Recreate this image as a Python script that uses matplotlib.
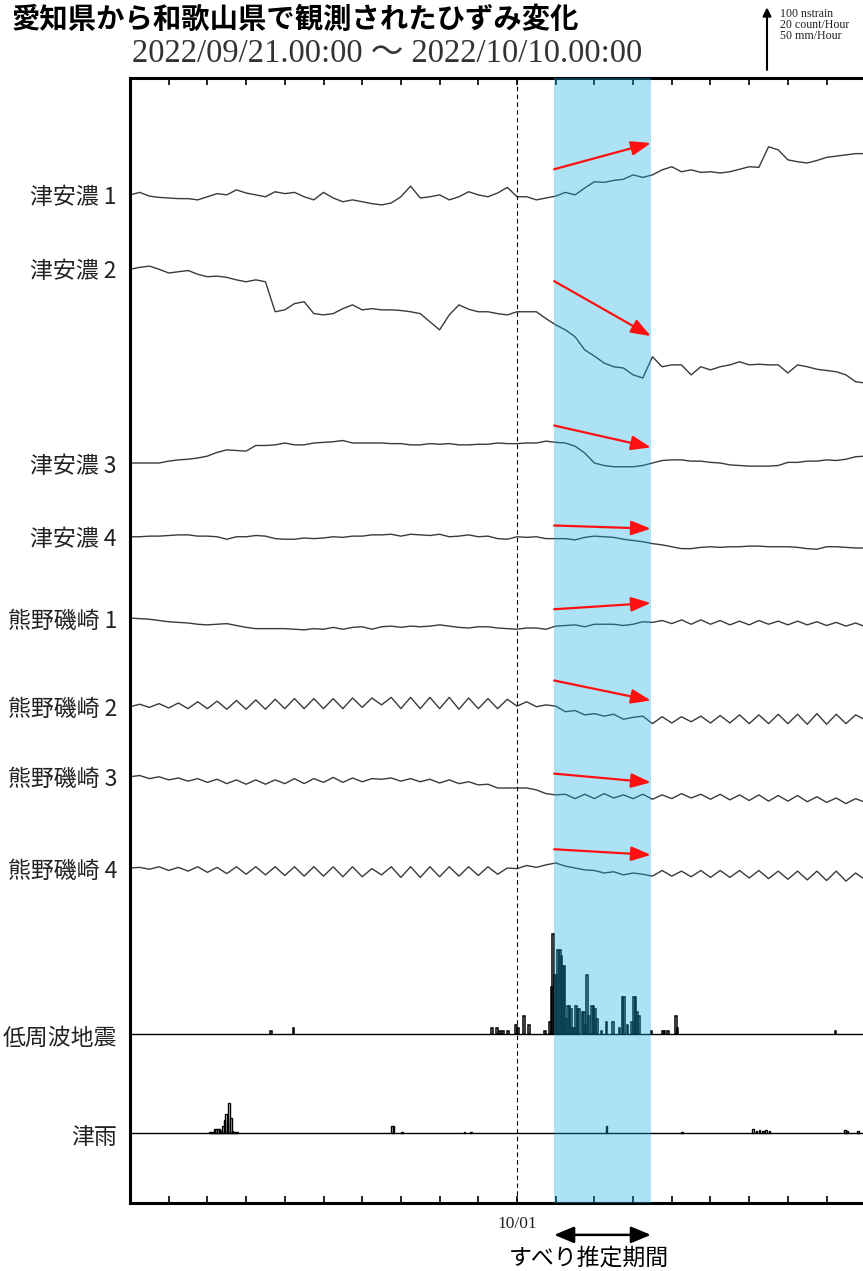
import numpy as np
import matplotlib
matplotlib.use("Agg")
import matplotlib.pyplot as plt

plt.rcParams["font.family"] = ["Noto Sans CJK JP", "DejaVu Sans"]

# strain traces, sampled every 6 hours from 2022/09/21 00:00 (nstrain, relative to start)
station_names = ["津安濃 1", "津安濃 2", "津安濃 3", "津安濃 4",
                 "熊野磯崎 1", "熊野磯崎 2", "熊野磯崎 3", "熊野磯崎 4"]

tsuano1 = [0, 4, -2, -4, -5, -6, -6, -8, -3, 2, 0, 8, 3, 0, -3, 5,
           2, 4, -3, -8, 4, -5, -11, -8, -11, -14, -16, -13, -3, 14, -5, -3,
           0, -8, -3, 5, 0, -3, 3, 12, -3, -3, -8, -5, -2, 4, 0, 11,
           21, 20, 23, 25, 32, 28, 32, 40, 45, 37, 40, 36, 37, 35, 37, 41,
           45, 44, 77, 72, 56, 53, 51, 55, 60, 62, 64, 66, 66]
tsuano2 = [-2, 1, 3, -2, -8, -6, -4, -10, -14, -13, -15, -19, -22, -19, -22, -70,
           -67, -57, -54, -73, -75, -73, -65, -59, -67, -65, -67, -67, -68, -70, -73, -86,
           -99, -75, -59, -66, -70, -70, -73, -75, -70, -70, -70, -81, -91, -99, -110, -131,
           -141, -152, -158, -160, -171, -176, -142, -158, -155, -155, -171, -158, -163, -158, -155, -150,
           -155, -154, -155, -155, -168, -155, -158, -162, -164, -166, -171, -182, -184]
tsuano3 = [0, 0, 0, 0, 3, 5, 6, 8, 11, 17, 21, 20, 19, 28, 28, 29,
           32, 29, 29, 32, 33, 34, 36, 32, 32, 32, 32, 31, 31, 29, 29, 31,
           30, 31, 29, 29, 30, 30, 32, 31, 31, 32, 32, 35, 33, 32, 27, 16,
           0, -4, -6, -6, -6, -4, 0, 4, 5, 5, 3, 3, 1, 0, -3, -4,
           -5, -5, -5, -4, 1, 1, 3, 3, 5, 4, 6, 10, 11]
tsuano4 = [0, 0, 1, 1, 2, 3, 3, 1, 1, 0, -4, 0, 0, 2, 1, -3,
           -4, -4, -2, -3, -2, 0, -1, 1, 1, 3, 3, 4, 1, 4, 3, 2,
           4, 0, 1, 3, 0, 1, -3, -4, 0, -1, 0, -3, -3, -3, -5, -1,
           1, 0, -1, -4, -6, -8, -11, -13, -16, -19, -19, -17, -16, -17, -16, -16,
           -15, -15, -16, -16, -16, -17, -19, -20, -16, -16, -17, -18, -18]
kumano1 = [0, -1, -2, -4, -6, -7, -8, -10, -11, -10, -9, -12, -15, -17, -17, -17,
           -17, -18, -19, -17, -18, -15, -18, -15, -14, -18, -14, -13, -15, -13, -14, -13,
           -11, -13, -15, -16, -14, -14, -16, -17, -18, -16, -16, -18, -13, -12, -11, -14,
           -10, -10, -10, -12, -10, -6, -7, -4, -9, -3, -10, -3, -10, -4, -11, -5,
           -11, -4, -10, -5, -11, -5, -11, -6, -12, -7, -13, -8, -14]
kumano2 = [0, 4, -1, 5, -2, 6, -3, 8, -3, 9, -4, 10, -4, 11, -4, 12,
           -3, 13, -3, 13, -3, 13, -3, 14, -1, 14, 3, 15, -3, 15, -3, 15,
           -3, 15, -4, 14, -3, 13, -3, 12, 1, 8, 0, 3, 1, -8, -6, -13,
           -11, -15, -12, -20, -17, -15, -27, -16, -26, -16, -24, -15, -26, -14, -26, -13,
           -27, -13, -27, -12, -27, -12, -28, -11, -28, -12, -27, -13, -21]
kumano3 = [0, 2, -3, 0, -5, -2, -7, -3, -9, -4, -11, -5, -12, -5, -12, -5,
           -11, -3, -11, -3, -9, -1, -9, -2, -8, -3, -4, -2, -7, -3, -8, -4,
           -10, -5, -11, -8, -13, -12, -18, -18, -18, -18, -21, -27, -29, -28, -35, -28,
           -35, -27, -34, -29, -35, -28, -36, -29, -35, -27, -34, -28, -36, -28, -37, -29,
           -38, -29, -39, -30, -39, -30, -40, -32, -41, -34, -43, -35, -41]
kumano4 = [0, 1, -2, 2, -4, 1, -5, 2, -7, 1, -9, 2, -10, 2, -11, 2,
           -12, 2, -13, 2, -13, 2, -14, 2, -14, -1, -11, 2, -15, 2, -15, 2,
           -14, 2, -13, 2, -12, 2, -10, 0, -1, 4, 1, 5, 8, 3, 0, -3,
           -4, -8, -6, -11, -8, -10, -13, -4, -13, -5, -14, -4, -15, -4, -15, -4,
           -16, -4, -17, -5, -18, -5, -19, -5, -20, -5, -21, -8, -19]

# low-frequency earthquakes: hour index since start, count per hour
lf_hour = [87, 101, 224, 227, 229, 231, 234, 239, 240, 244, 247, 257, 260,
           261, 262, 263, 264, 265, 266, 267, 268, 269, 270, 271, 272, 273, 274, 275, 276, 277, 278,
           280, 281, 282, 283, 284, 286, 287, 288, 289, 292, 295, 299, 303, 305, 306, 308,
           311, 312, 313, 314, 315, 323, 330, 331, 333, 338, 339, 437]
lf_count = [1, 2, 2, 2, 1, 1, 1, 3, 2, 6, 3, 1, 4,
            15, 32, 19, 19, 27, 27, 25, 22, 22, 5, 9, 9, 8, 2, 2, 9, 8, 8,
            7, 7, 3, 19, 6, 9, 9, 8, 5, 1, 4, 4, 2, 12, 12, 3,
            4, 12, 12, 7, 6, 1, 1, 1, 1, 6, 2, 1]

# rainfall at Tsu: hour index, mm/hour
rain_hour = [49, 50, 51, 52, 53, 54, 55, 56, 57, 58, 59, 60, 61, 62, 63, 64, 65, 66,
             162, 163, 168, 207, 211, 295, 342, 386, 388, 390, 392, 394, 396, 443, 444, 451]
rain_mm = [0.5, 0.5, 1, 3.5, 3.5, 3.5, 3.5, 1.5, 6, 10.5, 15.5, 8, 24, 12, 2, 1, 1, 0.5,
           5.5, 5.5, 1, 0.5, 0.5, 5.5, 1, 3, 2, 2.5, 2, 2.5, 1.5, 2.5, 1.5, 2]

# estimated slip period (days since 09/21)
slip_start, slip_end = 10.95, 13.45

# layout (vertical units: nstrain; 100 nstrain = scale arrow)
trace_base = [1613, 1496, 1184, 1066, 936, 794, 682, 536]
lf_base, lf_scale = 270, 5.0      # 20 count/Hour = 100
rain_base, rain_scale = 112, 2.0  # 50 mm/Hour = 100
arrow_rel = [(41, 83), (-21, -109), (60, 25), (18, 13),
             (14, 24), (42, 10), (5, -9), (30, 21)]

GRAY = "#3a3a3a"
SERIF = ["Liberation Serif", "Noto Sans CJK JP"]

fig = plt.figure(figsize=(8.63, 12.71), dpi=100)
ax = fig.add_axes([130 / 863, 68 / 1271, 735.3 / 863, 1125 / 1271])
ax.set_xlim(0, 19)
ax.set_ylim(0, 1800)

t = np.arange(77) * 0.25
traces = [tsuano1, tsuano2, tsuano3, tsuano4, kumano1, kumano2, kumano3, kumano4]
for name, base, vals in zip(station_names, trace_base, traces):
    ax.plot(t, base + np.array(vals), color=GRAY, lw=1.0, zorder=2)
    ax.text(-0.0177, base - 5, name, transform=ax.get_yaxis_transform(),
            ha="right", va="center", fontsize=16.5, color="#222222")

# LF earthquake and rain bars
ax.bar(np.array(lf_hour) / 24, np.array(lf_count) * lf_scale, width=1 / 24,
       bottom=lf_base, align="edge", facecolor="none", edgecolor="black", lw=1.1, zorder=2)
ax.bar(np.array(rain_hour) / 24, np.array(rain_mm) * rain_scale, width=1 / 24,
       bottom=rain_base, align="edge", facecolor="none", edgecolor="black", lw=1.0, zorder=2)
ax.axhline(lf_base, color="black", lw=1.0, zorder=2)
ax.axhline(rain_base, color="black", lw=1.0, zorder=2)
ax.text(-0.0177, lf_base - 6, "低周波地震", transform=ax.get_yaxis_transform(),
        ha="right", va="center", fontsize=16.5, color="#222222")
ax.text(-0.0177, rain_base - 8, "津雨", transform=ax.get_yaxis_transform(),
        ha="right", va="center", fontsize=16.5, color="#222222")

# 10/01 line and slip period
ax.axvline(10, color="black", lw=0.8, ls=(0, (4, 3)), zorder=2)
ax.axvspan(slip_start, slip_end, color="#14ACE2", alpha=0.35, lw=0, zorder=3)

for base, (y0, y1) in zip(trace_base, arrow_rel):
    ax.annotate("", xy=(13.46, base + y1), xytext=(10.96, base + y0),
                arrowprops=dict(arrowstyle="-|>,head_length=0.6,head_width=0.22",
                                color="#ff1010", lw=1.6, mutation_scale=20,
                                shrinkA=0, shrinkB=0), zorder=5)

# axes frame and ticks
for side in ["left", "bottom", "top", "right"]:
    ax.spines[side].set_linewidth(2.2)
ax.set_yticks([])
ax.set_xticks(np.arange(1, 19))
ax.set_xticklabels(["10/01" if d == 10 else "" for d in range(1, 19)],
                   family=SERIF, fontsize=12.5, color="#222222")
ax.tick_params(axis="x", direction="in", length=5, width=1.2, top=True, pad=9)

# estimated slip period arrow below axis
ax.annotate("", xy=(13.46, -51), xytext=(10.96, -51), annotation_clip=False,
            arrowprops=dict(arrowstyle="<|-|>,head_length=0.6,head_width=0.25",
                            color="black", lw=1.8, mutation_scale=20, shrinkA=0, shrinkB=0))
ax.text(11.86, -88, "すべり推定期間", ha="center", va="center", fontsize=16.5,
        clip_on=False, color="black")

# scale arrow at top right
ax.annotate("", xy=(16.46, 1913), xytext=(16.46, 1813), annotation_clip=False,
            arrowprops=dict(arrowstyle="-|>,head_length=0.5,head_width=0.25",
                            color="black", lw=1.5, mutation_scale=10, shrinkA=0, shrinkB=0))
ax.text(16.8, 1885, "100 nstrain\n20 count/Hour\n50 mm/Hour", ha="left", va="center",
        fontsize=8.6, family=SERIF, linespacing=0.85, clip_on=False, color="#222222")

fig.text(12 / 863, 1 - 20 / 1271, "愛知県から和歌山県で観測されたひずみ変化",
         ha="left", va="center", fontsize=20.4, fontweight="bold", color="black")
fig.text(387 / 863, 1 - 54 / 1271, "2022/09/21.00:00 ～ 2022/10/10.00:00",
         ha="center", va="center", fontsize=23.5, family=SERIF, color="#333333")

fig.savefig("out.png", dpi=100)
